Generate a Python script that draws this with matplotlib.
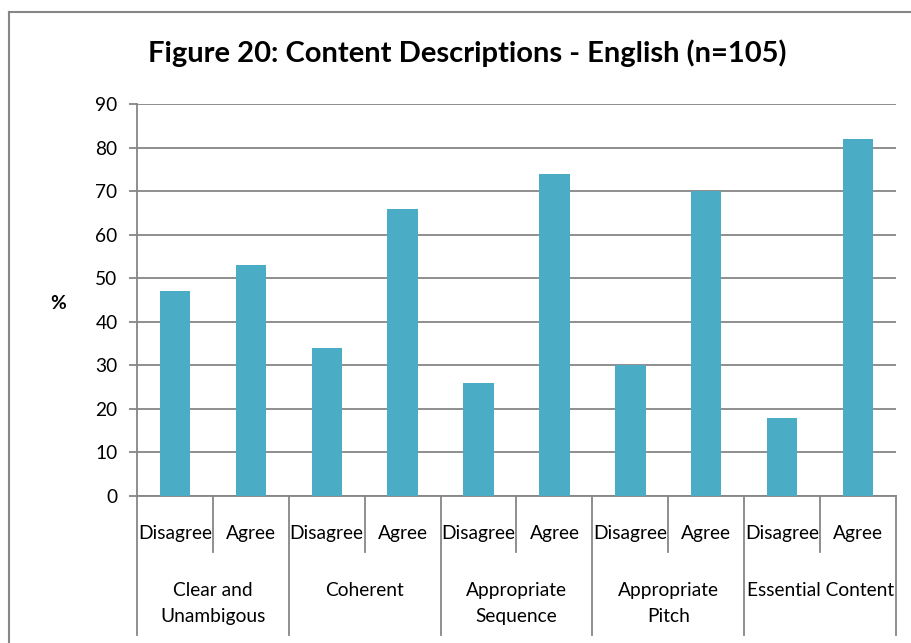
import matplotlib
matplotlib.use("Agg")
import matplotlib.pyplot as plt
from matplotlib.lines import Line2D
import matplotlib.transforms as mtransforms

groups = ["Clear and\nUnambigous", "Coherent", "Appropriate\nSequence", "Appropriate\nPitch", "Essential Content"]
responses = ["Disagree", "Agree"]
values = [47, 53, 34, 66, 26, 74, 30, 70, 18, 82]
yticks = [0, 10, 20, 30, 40, 50, 60, 70, 80, 90]

plt.rcParams['font.family'] = ['Lato', 'DejaVu Sans']
GRAY = "#868686"
BAR = "#4BACC6"
FS = 13.8

W, H = 912, 643
fig = plt.figure(figsize=(W/100, H/100), dpi=100)
ax = fig.add_axes([137/W, 1-496/H, (896-137)/W, (496-104)/H])

n = len(values)
xs = list(range(n))
ax.bar(xs, values, width=0.4, color=BAR, zorder=3)
ax.set_xlim(-0.5, n-0.5)
ax.set_ylim(0, 90)
ax.set_yticks(yticks)
ax.set_yticklabels([str(t) for t in yticks], fontsize=FS)
ax.yaxis.grid(True, color=GRAY, linewidth=1.3, zorder=0)
ax.tick_params(axis='y', length=6, color=GRAY, width=1.3, pad=8)
ax.set_xticks([])
for s in ['top', 'right']:
    ax.spines[s].set_visible(False)
for s in ['left', 'bottom']:
    ax.spines[s].set_color(GRAY)
    ax.spines[s].set_linewidth(1.3)

trans = mtransforms.blended_transform_factory(ax.transData, ax.transAxes)
ah = 496-104
sub_bot = -(552-496)/ah
main_bot = -(635-496)/ah
for i in range(n+1):
    x = i - 0.5
    yb = main_bot if i % 2 == 0 else sub_bot
    ax.add_line(Line2D([x, x], [0, yb], transform=trans, color=GRAY, lw=1.3, clip_on=False))

sub_y = -(533-496)/ah
for i in range(n):
    ax.text(i, sub_y, responses[i % 2], transform=trans, ha='center', va='center', fontsize=FS)
main_y = -(582-496)/ah
for g, name in enumerate(groups):
    ax.text(2*g+0.5, main_y, name, transform=trans, ha='center', va='top', fontsize=FS, linespacing=1.62)

fig.text(58/W, 1-303/H, "%", ha='center', va='center', fontsize=FS, fontweight='bold')
fig.text(467/W, 1-53/H, "Figure 20: Content Descriptions - English (n=105)", ha='center', va='center',
         fontsize=21, fontweight='bold')

# outer chart border (top and left visible)
fig.add_artist(Line2D([9/W, 1.0], [1-12/H, 1-12/H], transform=fig.transFigure, color=GRAY, lw=1.5))
fig.add_artist(Line2D([9/W, 9/W], [0, 1-12/H], transform=fig.transFigure, color=GRAY, lw=1.5))

fig.savefig("out.png", dpi=100)
